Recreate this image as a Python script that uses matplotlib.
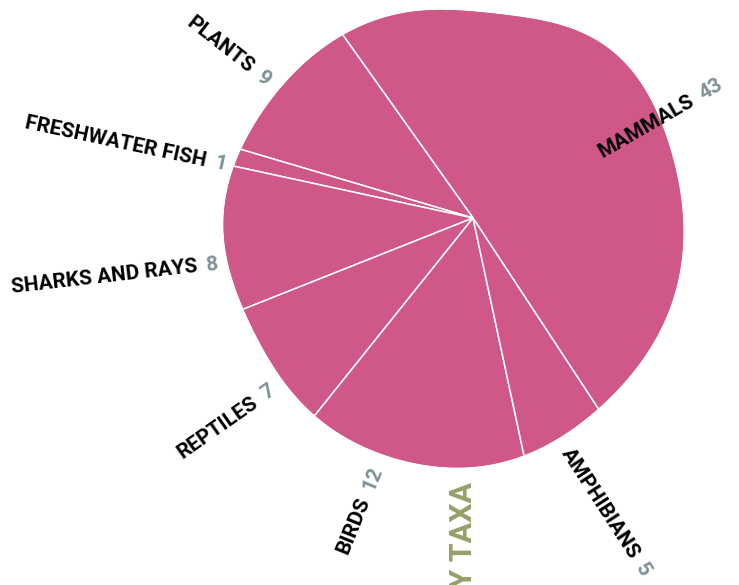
import numpy as np
import matplotlib
matplotlib.use("Agg")
import matplotlib.pyplot as plt
from matplotlib.path import Path
from matplotlib.patches import PathPatch

W, H = 739, 585

TAXA   = ["MAMMALS", "PLANTS", "FRESHWATER FISH", "SHARKS AND RAYS",
          "REPTILES", "BIRDS", "AMPHIBIANS"]
COUNTS = [43, 9, 1, 8, 7, 12, 5]

PINK  = "#d05888"
GREY  = "#7f9196"
OLIVE = "#97a06a"
FONT  = "Roboto"

START  = -56.7          # where the first slice (mammals) begins
CENTER = (473, 218)     # pie centre, pixel coords (y down)
GAP    = 9              # space between a name and its count

# name/count junction (x, y) and text rotation for every label
LABEL_POS = [
    (697, 97, 30),
    (255, 72, -38),
    (210, 162, -12),
    (202, 266, 6.5),
    (260, 398, 35),
    (366, 494, 68),
    (637, 561, -57),
]

# points on the rim of the blob the slices are cut to, pixel coords (y down)
OUTLINE = [
    (343, 35), (380, 19), (420, 11), (445, 10), (490, 13), (530, 18),
    (580, 33), (610, 49), (625, 62), (643, 88), (660, 120), (673, 157),
    (681, 200), (683, 227), (678, 283), (663, 323), (637, 367), (597, 410),
    (558, 438), (518, 457), (453, 468), (410, 462), (367, 447), (313, 415),
    (288, 387), (267, 353), (243, 310), (230, 270), (223, 220), (227, 197),
    (237, 160), (248, 133), (283, 87), (310, 58),
]


def smooth_rim(pts, order=8, n=720):
    # fit r(phi) around the rim's centroid with a short Fourier series
    p = np.asarray(pts, float)
    c = p.mean(axis=0)
    phi = np.arctan2(p[:, 1] - c[1], p[:, 0] - c[0])
    r = np.hypot(p[:, 0] - c[0], p[:, 1] - c[1])

    def basis(a):
        cols = [np.ones_like(a)]
        for k in range(1, order + 1):
            cols += [np.cos(k * a), np.sin(k * a)]
        return np.column_stack(cols)

    coef, *_ = np.linalg.lstsq(basis(phi), r, rcond=None)
    a = np.linspace(-np.pi, np.pi, n, endpoint=False)
    rr = basis(a) @ coef
    return np.column_stack([c[0] + rr * np.cos(a), c[1] + rr * np.sin(a)])


fig = plt.figure(figsize=(W / 100, H / 100), dpi=100)
ax = fig.add_axes([0, 0, 1, 1])

blob = smooth_rim(OUTLINE)
blob[:, 1] = H - blob[:, 1]
blob_patch = PathPatch(Path(np.vstack([blob, blob[:1]]), closed=True),
                       facecolor=PINK, edgecolor="none", zorder=1)
ax.add_patch(blob_patch)

cx, cy = CENTER[0], H - CENTER[1]
wedges, _ = ax.pie(COUNTS, startangle=START, counterclock=True, radius=420,
                   center=(cx, cy), colors=[PINK] * len(COUNTS),
                   wedgeprops=dict(edgecolor="white", linewidth=1.1))
for w in wedges:
    w.set_zorder(2)
    w.set_clip_on(True)
    w.set_clip_path(blob_patch)

for name, n, (x, y, rot) in zip(TAXA, COUNTS, LABEL_POS):
    y = H - y
    d = np.array([np.cos(np.radians(rot)), np.sin(np.radians(rot))]) * GAP / 2
    ax.text(x - d[0], y - d[1], name, rotation=rot, rotation_mode="anchor",
            ha="right", va="center", fontsize=15, fontweight="bold",
            family=FONT, color="black", zorder=3)
    ax.text(x + d[0], y + d[1], str(n), rotation=rot, rotation_mode="anchor",
            ha="left", va="center", fontsize=15, fontweight="bold",
            family=FONT, color=GREY, zorder=3)

ax.text(463, H - 482, "BY TAXA", rotation=90, rotation_mode="anchor",
        ha="right", va="center", fontsize=22, fontweight="bold",
        family=FONT, color=OLIVE)

ax.set_xlim(0, W)
ax.set_ylim(0, H)
ax.set_aspect("equal")
ax.axis("off")

fig.savefig("out.png", dpi=100)
